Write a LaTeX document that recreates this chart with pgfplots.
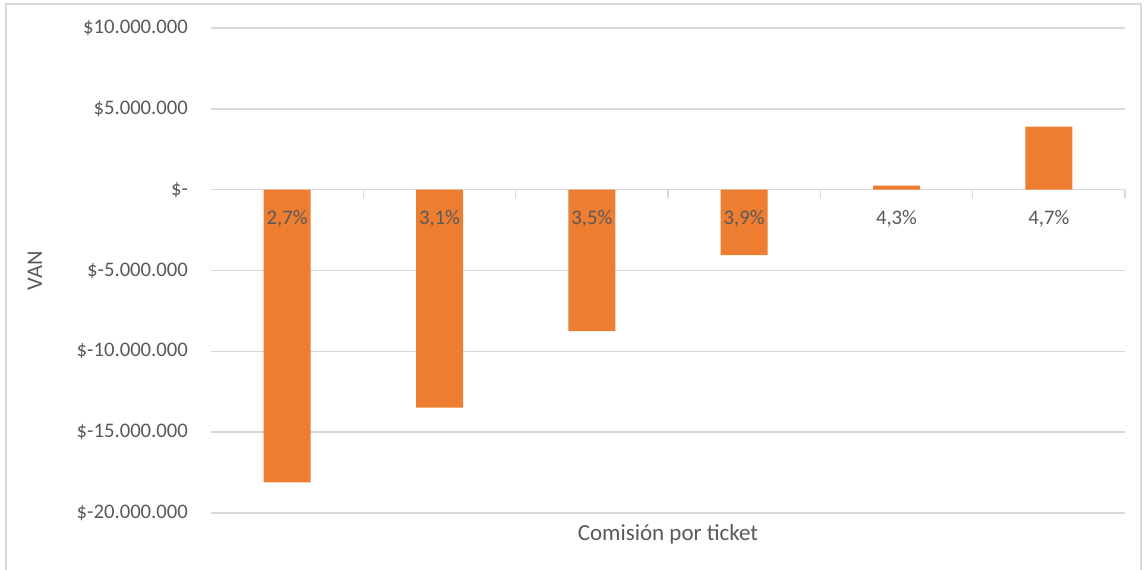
\documentclass[border=0pt]{standalone}
\usepackage{pgfplots}
\pgfplotsset{compat=1.18}
\usepackage{fontspec}
\setmainfont{Carlito}
\definecolor{barorange}{HTML}{ED7D31}
\definecolor{txtgray}{HTML}{595959}
\definecolor{gridgray}{HTML}{D9D9D9}
\pgfplotsset{
  common/.style={
    at={(105.5pt,28pt)}, anchor=south west,
    scale only axis, width=457pt, height=242.5pt,
    xmin=-0.5, xmax=5.5, ymin=-20000000, ymax=10000000,
    scaled y ticks=false, scaled x ticks=false,
    tick label style={font=\fontsize{10.35}{12}\selectfont, text=txtgray},
    clip=false,
  }
}
\begin{document}
\begin{tikzpicture}
\useasboundingbox (0,0) rectangle (572pt,284.5pt);
\draw[gridgray, line width=0.8pt] (3pt,-10pt) rectangle (570.5pt,282.5pt);
\begin{axis}[
  common,
  axis x line=middle, axis y line=left,
  x axis line style={-, draw=gridgray, line width=0.8pt},
  y axis line style={draw=none},
  xtick={-0.5,0.5,1.5,2.5,3.5,4.5,5.5},
  xticklabels={},
  major x tick style={draw=gridgray, line width=0.8pt},
  tick align=outside,
  major tick length=4pt,
  ytick={-20000000,-15000000,-10000000,-5000000,0,5000000,10000000},
  yticklabels={\$-20.000.000,\$-15.000.000,\$-10.000.000,\$-5.000.000,\$-,\$5.000.000,\$10.000.000},
  ymajorgrids, major grid style={draw=gridgray, line width=0.8pt},
  major y tick style={draw=none},
  yticklabel style={anchor=east, xshift=-4pt},
  xlabel={Comisión por ticket},
  ylabel={VAN},
  every axis x label/.style={at={(rel axis cs:0.5,0)}, anchor=center, yshift=-10.5pt, font=\fontsize{11.5}{13}\selectfont, text=txtgray},
  every axis y label/.style={at={(rel axis cs:0,0.5)}, anchor=center, rotate=90, yshift=88pt, font=\fontsize{11.2}{13}\selectfont, text=txtgray},
]
\addplot[ybar, bar width=23.5pt, fill=barorange, draw=none] coordinates {
  (0,-18100000) (1,-13480000) (2,-8750000) (3,-4050000) (4,250000) (5,3900000)
};
\end{axis}
\begin{axis}[
  common,
  axis x line=middle, axis y line=none,
  x axis line style={draw=none},
  xtick={0,1,2,3,4,5},
  xticklabels={{2,7\%},{3,1\%},{3,5\%},{3,9\%},{4,3\%},{4,7\%}},
  major x tick style={draw=none},
  ytick=\empty,
  xticklabel style={anchor=base, yshift=-15.5pt},
]
\end{axis}
\end{tikzpicture}
\end{document}
